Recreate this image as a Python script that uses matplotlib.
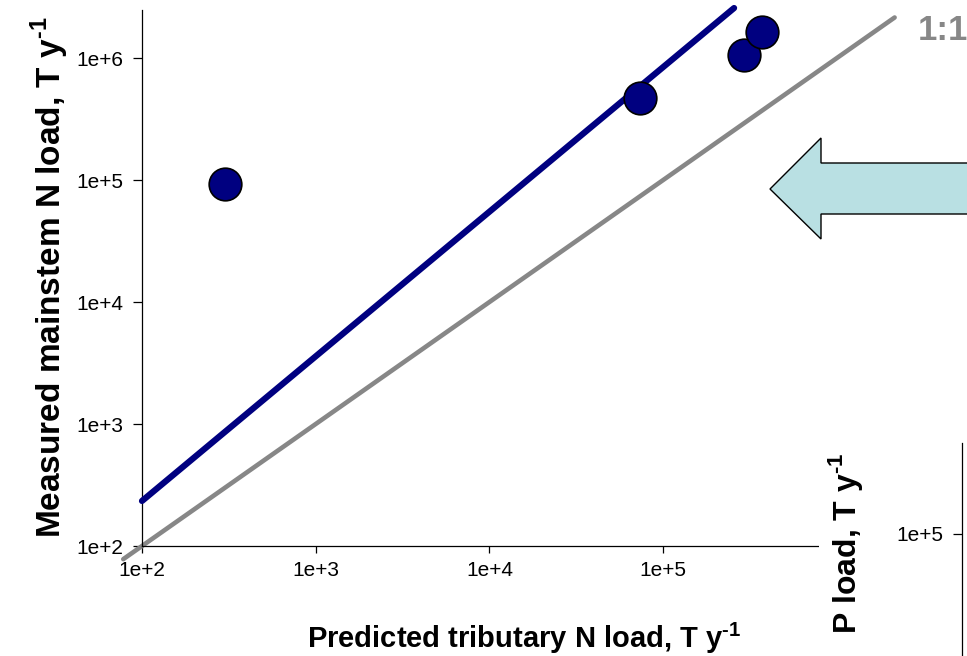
import matplotlib
matplotlib.use("Agg")
import matplotlib.pyplot as plt
from matplotlib.patches import Polygon
from matplotlib.ticker import FixedLocator, NullLocator

plt.rcParams['font.family'] = ['Liberation Sans', 'DejaVu Sans']
plt.rcParams['mathtext.fontset'] = 'custom'
plt.rcParams['mathtext.rm'] = 'Liberation Sans'
plt.rcParams['mathtext.bf'] = 'Liberation Sans:bold'

# Tributary predictions vs. measured mainstem nitrogen loads (T/yr)
predicted_n = [300, 7.36e4, 2.92e5, 3.71e5]
measured_n = [9.27e4, 4.7e5, 1.06e6, 1.63e6]

# Fitted power-law line (end points in data units)
fit_x = [100, 2.56e5]
fit_y = [234, 2.57e6]

# 1:1 reference line
ref_x = [78, 2.15e6]
ref_y = [78, 2.15e6]

x_ticks = [1e2, 1e3, 1e4, 1e5]
x_ticklabels = ["1e+2", "1e+3", "1e+4", "1e+5"]
y_ticks = [1e2, 1e3, 1e4, 1e5, 1e6]
y_ticklabels = ["1e+2", "1e+3", "1e+4", "1e+5", "1e+6"]

# Phosphorus panel (partially shown)
p_ticks = [1e5]
p_ticklabels = ["1e+5"]

UNIT = "T y$^{\\mathbf{\u20101}}$"

W, H = 967, 656
fig = plt.figure(figsize=(W / 100, H / 100), dpi=100)


def fx(px):
    return px / W


def fy(py):
    return (H - py) / H


ax = fig.add_axes([fx(142), fy(546), fx(906) - fx(142), fy(9.5) - fy(546)])
ax.set_xscale("log")
ax.set_yscale("log")
ax.set_xlim(100, 2.5e6)
ax.set_ylim(100, 2.5e6)

ax.plot(ref_x, ref_y, color="#878787", lw=3.3, solid_capstyle="round",
        clip_on=False, zorder=2)
ax.plot(fit_x, fit_y, color="#000080", lw=4.5, solid_capstyle="round",
        clip_on=False, zorder=3)
ax.plot(predicted_n, measured_n, "o", ms=23.5, mfc="#000080", mec="black",
        mew=1.2, clip_on=False, zorder=4)

ax.text(918, H - 40, "1:1", transform=None, fontsize=25, fontweight="bold",
        color="#878787", ha="left", va="baseline")

ax.xaxis.set_major_locator(FixedLocator(x_ticks))
ax.yaxis.set_major_locator(FixedLocator(y_ticks))
ax.xaxis.set_minor_locator(NullLocator())
ax.yaxis.set_minor_locator(NullLocator())
ax.set_xticklabels(x_ticklabels)
ax.set_yticklabels(y_ticklabels)
ax.tick_params(axis="x", direction="out", length=5, width=0.9, labelsize=15, pad=6)
ax.tick_params(axis="y", direction="out", length=6.5, width=0.9, labelsize=15, pad=7)

for side in ("top", "right"):
    ax.spines[side].set_visible(False)
for side in ("left", "bottom"):
    ax.spines[side].set_linewidth(0.9)

ax.set_xlabel("Predicted tributary N load, " + UNIT, fontsize=21,
              fontweight="bold", labelpad=29)
ax.set_ylabel("Measured mainstem N load, " + UNIT, fontsize=24,
              fontweight="bold", labelpad=4)

# Left-pointing block arrow
arrow_pts = [(770, 189), (821, 138), (821, 163), (975, 163),
             (975, 214), (821, 214), (821, 239)]
fig.patches.append(Polygon([(fx(x), fy(y)) for x, y in arrow_pts], closed=True,
                           facecolor="#B9E0E3", edgecolor="black", lw=1.0,
                           transform=fig.transFigure, zorder=6))

# White panel holding the phosphorus axis
cover = fig.add_axes([fx(819), 0, 1 - fx(819), fy(420)])
cover.set_facecolor("white")
cover.set_xticks([])
cover.set_yticks([])
for s in cover.spines.values():
    s.set_visible(False)
cover.set_zorder(5)

ax2 = fig.add_axes([fx(962), 0, 0.2, fy(443)])
ax2.set_zorder(6)
ax2.patch.set_alpha(0)
ax2.set_yscale("log")
ax2.set_ylim(1e4, 5.5e5)
ax2.yaxis.set_major_locator(FixedLocator(p_ticks))
ax2.yaxis.set_minor_locator(NullLocator())
ax2.set_yticklabels(p_ticklabels)
ax2.set_xticks([])
ax2.tick_params(axis="y", direction="out", length=6.5, width=0.9, labelsize=15, pad=7)
for side in ("top", "right", "bottom"):
    ax2.spines[side].set_visible(False)
ax2.spines["left"].set_linewidth(0.9)
ax2.set_ylabel("P load, " + UNIT, fontsize=23, fontweight="bold")
ax2.yaxis.set_label_coords(-0.50, 0.53)

fig.savefig("out.png", dpi=100)
